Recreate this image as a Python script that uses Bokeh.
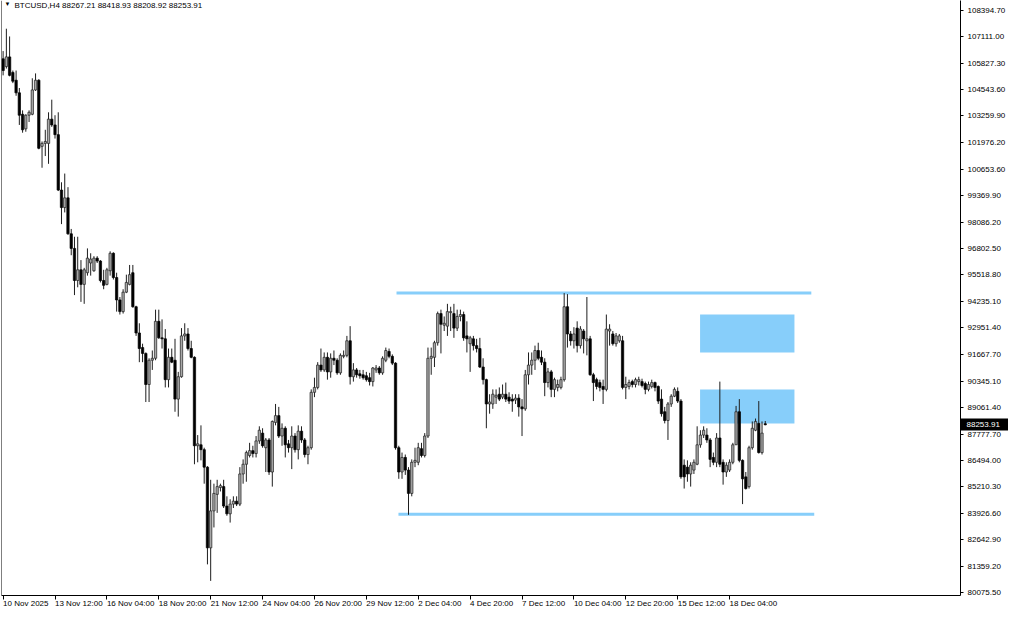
from bokeh.plotting import figure
from bokeh.models import Range1d, FixedTicker, NumeralTickFormatter, Label, Span, LinearAxis
from bokeh.embed import file_html
from bokeh.resources import INLINE

symbol = "BTCUSD"
timeframe = "H4"

# OHLC of the H4 bars, oldest first (bar 0 = 10 Nov 2025 20:00)
opens = [106031, 105653, 106126, 105369, 104991, 104377, 103336, 102627, 103289, 103336,
         104518, 104991, 101776, 101918, 101918, 103099, 102816, 102344, 99649, 98797,
         99270, 97521, 96812, 95252, 95771, 95062, 95630, 96102, 95724, 96339,
         96197, 95252, 95062, 95724, 96575, 95394, 94306, 93738, 94684, 95062,
         95630, 93975, 92698, 91989, 91705, 90193, 91374, 91469, 93266, 92462,
         92415, 90429, 91516, 91374, 89483, 90571, 92557, 92651, 91942, 91516,
         87214, 87261, 87024, 86174, 82249, 84046, 84850, 85181, 85228, 84282,
         83904, 84377, 84519, 84377, 85843, 86315, 86741, 86977, 86835, 87450,
         87829, 87119, 87497, 85938, 88349, 88679, 87687, 88065, 87308, 87119,
         87687, 87024, 87923, 87497, 86788, 87119, 89814, 90051, 91138, 90902,
         91516, 90807, 91469, 91374, 90760, 91563, 91611, 92320, 90571, 90902,
         90713, 90666, 90618, 90524, 90334, 90902, 90996, 90760, 91374, 91800,
         91563, 91232, 87119, 85938, 86646, 86032, 84897, 86410, 86410, 87072,
         86741, 87687, 91469, 91516, 92225, 93643, 93077, 93030, 93691, 93643,
         92935, 93502, 93596, 92557, 92178, 92415, 92084, 91942, 91043, 90429,
         89247, 89247, 89578, 89720, 89578, 89720, 89578, 89483, 89436, 89530,
         89105, 89010, 90666, 91138, 91374, 91847, 91516, 91279, 90287, 90807,
         89956, 90051, 90051, 90429, 93975, 92651, 92320, 92935, 92084, 92793,
         92320, 92415, 90666, 90429, 90287, 90098, 89956, 92793, 92651, 92178,
         92320, 92320, 90051, 90098, 90334, 90193, 90334, 90334, 90240, 89956,
         90098, 90287, 90098, 89483, 88868, 88443, 89247, 89625, 89861, 89388,
         86268, 86174, 85843, 86032, 86315, 87261, 87734, 87734, 87497, 86646,
         86410, 87592, 86410, 85938, 86032, 86410, 87261, 88868, 86504, 85701,
         85228, 87119, 87970, 88302, 86883, 88267.21]
highs = [106409, 107496, 107119, 105463, 105463, 104613, 103525, 103336, 103525, 105086,
         105322, 105039, 102013, 102580, 103431, 104045, 103289, 103431, 100027, 100452,
         99790, 97758, 97379, 97379, 96244, 95866, 96812, 96575, 96433, 96433,
         96244, 95771, 95866, 96670, 96622, 95630, 94448, 94826, 95535, 96007,
         96007, 94022, 93171, 92178, 91752, 91469, 91847, 93833, 93833, 93360,
         92888, 91942, 91942, 92415, 90807, 92935, 93171, 92935, 92320, 91563,
         87734, 88207, 87119, 86221, 85559, 85370, 85559, 85370, 85559, 84755,
         84613, 84755, 84755, 86174, 86551, 86977, 87356, 87214, 87687, 88160,
         88065, 87592, 87592, 88443, 89247, 89105, 88302, 88160, 87497, 88160,
         87829, 88207, 88160, 87592, 87214, 89956, 90524, 91279, 91942, 91752,
         91752, 91705, 91847, 91469, 91705, 91847, 92557, 93030, 91232, 90996,
         90902, 90902, 90807, 90760, 91043, 91138, 91090, 91563, 91989, 91942,
         91658, 91279, 87214, 86883, 86788, 86174, 86551, 87119, 87356, 87356,
         87829, 91989, 91989, 92320, 93738, 93833, 93502, 94116, 93975, 94116,
         93833, 93833, 93738, 93266, 92557, 92557, 92415, 92462, 91469, 90476,
         89720, 89956, 89956, 90051, 90193, 90287, 89814, 89720, 89720, 89720,
         89483, 90902, 91752, 91752, 92084, 92225, 91847, 91469, 90996, 90902,
         90524, 90429, 90571, 94637, 94589, 92793, 92982, 93266, 93030, 92888,
         94448, 92557, 90760, 90524, 90429, 90429, 93596, 93124, 92793, 92698,
         92651, 92557, 90571, 90429, 90429, 90524, 90571, 90476, 90334, 90334,
         90429, 90334, 90145, 89956, 89105, 89341, 89720, 90051, 90051, 89483,
         86551, 86504, 86410, 86551, 88160, 87970, 88160, 88065, 87592, 86883,
         87829, 90334, 86551, 86410, 86551, 87356, 89152, 89483, 86551, 85938,
         87214, 88396, 88538, 89388, 88396, 88418.93]
lows = [105227, 105558, 105180, 104850, 104235, 102816, 102438, 102486, 102958, 103289,
        104471, 101634, 100735, 101303, 100925, 102722, 102154, 99601, 97994, 98561,
        97474, 96480, 94542, 94921, 94211, 94116, 95488, 95488, 95676, 96102,
        95157, 94826, 95015, 95488, 95299, 93738, 93596, 93643, 94637, 95015,
        93927, 92557, 91279, 91279, 89341, 89341, 90902, 91374, 92415, 91942,
        90051, 90051, 91232, 88868, 88632, 90524, 92320, 91847, 91469, 86315,
        86410, 86504, 85370, 81446, 80642, 83242, 83951, 84992, 84187, 83810,
        83479, 84187, 84282, 84282, 85370, 85465, 86646, 86646, 86646, 87308,
        87119, 85938, 85796, 85228, 88207, 87592, 87214, 86646, 86883, 86079,
        86883, 86551, 87356, 86646, 86315, 87024, 89578, 89956, 90807, 90807,
        90429, 90524, 91138, 90666, 90666, 91469, 91516, 90193, 90334, 90524,
        90476, 90429, 90334, 90145, 90098, 90760, 90666, 90666, 91279, 91469,
        91138, 87024, 85606, 85606, 85796, 83856, 84755, 86174, 86268, 86646,
        86646, 87592, 90666, 91043, 92084, 91705, 92793, 92557, 92793, 92462,
        92793, 93266, 92320, 91752, 90807, 91847, 91752, 90996, 90193, 88065,
        88774, 89010, 89247, 89388, 89483, 89341, 89247, 88868, 89247, 88632,
        87687, 88915, 90193, 90666, 90902, 91374, 91138, 89625, 90051, 89578,
        89578, 89861, 89956, 90334, 91989, 92084, 91942, 91752, 91942, 91705,
        91611, 90618, 89388, 89956, 89861, 89247, 89861, 92084, 92084, 92036,
        92225, 89956, 89483, 89956, 90051, 90051, 90145, 90051, 89720, 89861,
        90003, 89861, 89247, 88632, 88302, 87497, 89105, 89578, 89294, 85606,
        85133, 85465, 85228, 85843, 86268, 87119, 87592, 87356, 86174, 86268,
        86174, 86174, 85323, 85701, 85938, 86315, 87261, 86410, 84377, 85086,
        85133, 87024, 87923, 86835, 86788, 88208.92]
closes = [105463, 106126, 105227, 104944, 104377, 103289, 102580, 103289, 103431, 104518,
          104991, 101681, 101918, 102013, 103099, 102816, 102344, 99649, 98797, 99270,
          97521, 96812, 95252, 95771, 95062, 95771, 96339, 96291, 96339, 96197,
          95252, 95015, 95771, 96575, 95394, 94306, 93738, 94684, 95157, 95535,
          93975, 92698, 91942, 91705, 90193, 91374, 91469, 93266, 92462, 92415,
          90429, 91516, 91279, 89483, 90571, 92557, 92651, 91942, 91516, 87214,
          87308, 87024, 86174, 82249, 84046, 84897, 85228, 85275, 84282, 83904,
          84377, 84519, 84377, 85843, 86315, 86883, 86977, 86835, 87450, 87970,
          87214, 87497, 85938, 88396, 88679, 87687, 88065, 87261, 87119, 87687,
          87024, 87923, 87497, 86788, 87119, 89814, 90051, 91138, 90902, 91516,
          90807, 91469, 91374, 90760, 91611, 91611, 92320, 90571, 90902, 90666,
          90618, 90524, 90429, 90334, 90996, 90996, 90760, 91469, 91847, 91563,
          91232, 87119, 85938, 86646, 86032, 84897, 86410, 86504, 87119, 86741,
          87687, 91469, 91563, 92225, 93643, 93124, 93171, 93738, 93738, 92935,
          93502, 93596, 92462, 92415, 92462, 92084, 91942, 91043, 90429, 89247,
          89341, 89720, 89672, 89483, 89720, 89483, 89388, 89388, 89530, 89105,
          89010, 90666, 91138, 91374, 91847, 91469, 91279, 90287, 90807, 89956,
          90429, 90193, 90429, 93975, 92651, 92320, 92651, 92084, 92888, 92415,
          92415, 90666, 90287, 90098, 90051, 89956, 92888, 92888, 92178, 92557,
          92557, 90051, 90193, 90287, 90193, 90429, 90429, 90145, 89956, 90193,
          90287, 90051, 89388, 88774, 88443, 89247, 89625, 89956, 89388, 85701,
          85701, 85843, 86268, 86410, 87261, 87734, 87970, 87497, 86551, 86410,
          87592, 86315, 85938, 86268, 86410, 87261, 88868, 86504, 85606, 85133,
          87119, 88065, 88396, 86883, 87829, 88253.91]

# time axis labels, one every 16 bars
x_tick_labels = ["10 Nov 2025", "13 Nov 12:00", "16 Nov 04:00", "18 Nov 20:00", "21 Nov 12:00",
                 "24 Nov 04:00", "26 Nov 20:00", "29 Nov 12:00", "2 Dec 04:00", "4 Dec 20:00",
                 "7 Dec 12:00", "10 Dec 04:00", "12 Dec 20:00", "15 Dec 12:00", "18 Dec 04:00"]
x_tick_bars = [16 * k for k in range(len(x_tick_labels))]

# price scale labels
y_tick_values = [108394.70, 107111.00, 105827.30, 104543.60, 103259.90, 101976.20, 100653.60,
                 99369.90, 98086.20, 96802.50, 95518.80, 94235.10, 92951.40, 91667.70,
                 90345.10, 89061.40, 87777.70, 86494.00, 85210.30, 83926.60, 82642.90,
                 81359.20, 80075.50]

# drawn objects: range lines (price level, first bar, last bar) and zones
level_prices = [94640, 83880]
level_start_bar = [121.3, 121.9]
level_end_bar = [249.2, 250.1]
zone_left_bar = [214.9, 214.9]
zone_right_bar = [244.0, 244.0]
zone_top = [93596, 89956]
zone_bottom = [91752, 88302]

n = len(closes)
bars = list(range(n))

p = figure(width=1008, height=615, output_backend="svg", toolbar_location=None,
           x_range=Range1d(-0.5, 295.2), y_range=Range1d(79932, 108868),
           y_axis_location="right", min_border_left=1, min_border_top=0,
           min_border_bottom=0, min_border_right=0)
p.background_fill_color = "white"
p.border_fill_color = "white"
p.outline_line_color = None
p.grid.visible = False

xa = p.xaxis[0]
xa.ticker = FixedTicker(ticks=x_tick_bars)
xa.major_label_overrides = {b: t for b, t in zip(x_tick_bars, x_tick_labels)}
xa.major_label_orientation = -0.0001   # tiny tilt -> labels start at their tick
xa.major_label_text_font_size = "8px"
xa.major_label_text_font = "Liberation Sans"
xa.major_label_text_color = "black"
xa.major_tick_in = 0
xa.major_tick_out = 4
xa.minor_tick_line_color = None
xa.axis_line_color = "black"
xa.major_tick_line_color = "black"
xa.major_label_standoff = 4

ya = p.yaxis[0]
ya.ticker = FixedTicker(ticks=y_tick_values)
ya.formatter = NumeralTickFormatter(format="0.00")
ya.major_label_text_font_size = "8px"
ya.major_label_text_font = "Liberation Sans"
ya.major_label_text_color = "black"
ya.major_tick_in = 0
ya.major_tick_out = 3
ya.minor_tick_line_color = None
ya.axis_line_color = "black"
ya.major_tick_line_color = "black"
ya.major_label_standoff = 4

# current price tag: an outer price axis with a single, thick black tick pointing
# back over the price scale and its white label drawn on top of it
tag_axis = LinearAxis(ticker=FixedTicker(ticks=[closes[-1]]),
                      formatter=NumeralTickFormatter(format="0.00"),
                      axis_line_color=None, minor_tick_line_color=None,
                      major_tick_in=48, major_tick_out=0, major_tick_line_width=12,
                      major_tick_line_color="black", major_tick_line_cap="butt",
                      major_label_standoff=-42, major_label_text_color="white",
                      major_label_text_font_size="8px", major_label_text_font="Liberation Sans")
p.add_layout(tag_axis, "right")

p.add_layout(Span(location=p.x_range.start, dimension="height", line_color="black", line_width=1))

zone_color = "#87CEFA"
p.quad(left=zone_left_bar, right=zone_right_bar, top=zone_top, bottom=zone_bottom,
       fill_color=zone_color, line_color=None)
p.segment(x0=level_start_bar, y0=level_prices, x1=level_end_bar, y1=level_prices,
          line_color=zone_color, line_width=3)

# wicks
p.segment(x0=bars, y0=lows, x1=bars, y1=highs, line_color="#1e1e1e", line_width=1)

# bodies
min_h = 45
def body(i):
    top, bot = max(opens[i], closes[i]), min(opens[i], closes[i])
    if top - bot < min_h:
        mid = (top + bot) / 2
        top, bot = mid + min_h / 2, mid - min_h / 2
    return top, bot

up = [i for i in bars if closes[i] >= opens[i]]
dn = [i for i in bars if closes[i] < opens[i]]
p.vbar(x=up, width=0.72, top=[body(i)[0] for i in up], bottom=[body(i)[1] for i in up],
       fill_color="#a8a8a8", line_color="#1e1e1e", line_width=0.7)
p.vbar(x=dn, width=0.72, top=[body(i)[0] for i in dn], bottom=[body(i)[1] for i in dn],
       fill_color="black", line_color="black", line_width=0.7)

header = f"{symbol},{timeframe}  {opens[-1]:.2f} {highs[-1]:.2f} {lows[-1]:.2f} {closes[-1]:.2f}"
p.add_layout(Label(x=p.x_range.start, y=p.y_range.end, x_offset=3, text="\u25BC",
                   text_baseline="top", text_font_size="6px", text_color="black"))
p.add_layout(Label(x=p.x_range.start, y=p.y_range.end, x_offset=13, text=header,
                   text_baseline="top", text_font_size="8px", text_font="Liberation Sans",
                   text_color="black"))

open("out.html", "w").write(file_html(p, INLINE))
